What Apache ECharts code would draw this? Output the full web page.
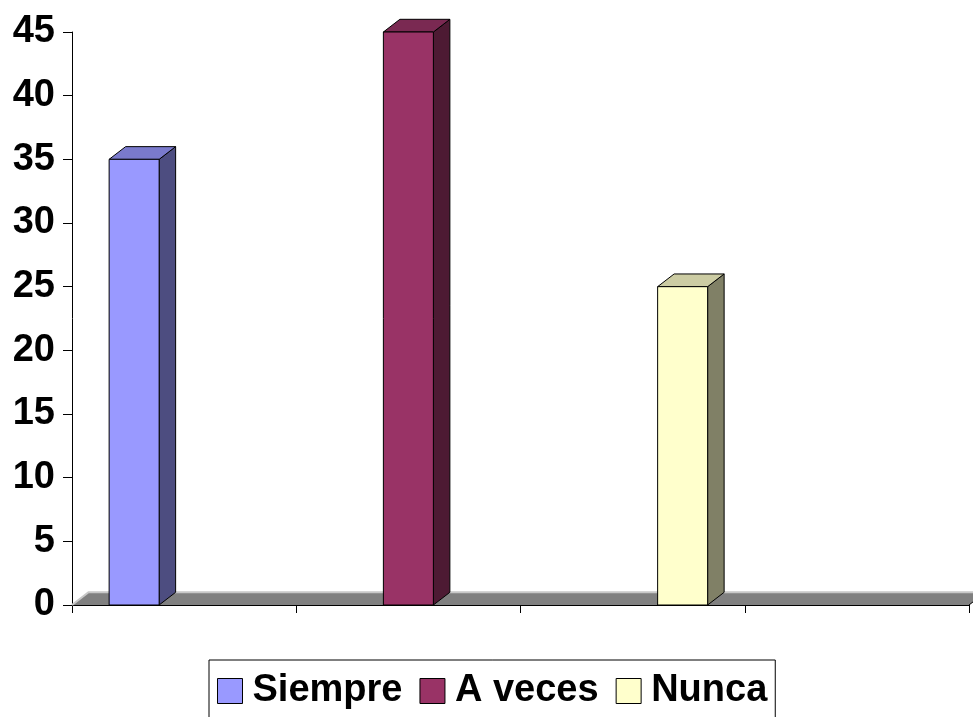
<!DOCTYPE html>
<html>
<head>
<meta charset="utf-8">
<script src="https://cdn.jsdelivr.net/npm/echarts@6/dist/echarts.min.js"></script>
<style>
html,body{margin:0;padding:0;background:#fff;}
#chart{width:973px;height:717px;}
</style>
</head>
<body>
<div id="chart"></div>
<script>
// ---- data ----
const categories = ['', '', '', ''];
const seriesNames = ['Siempre', 'A veces', 'Nunca'];
const siempre = [35, null, null, null];
const aVeces = [null, 45, null, null];
const nunca = [null, null, 25, null];
const yTicks = [0, 5, 10, 15, 20, 25, 30, 35, 40, 45];

// ---- styles ----
const faceColors = [
  { front: '#9999FF', side: '#4D4D80', top: '#7A7ACC' },
  { front: '#993366', side: '#4D1A33', top: '#7A2952' },
  { front: '#FFFFCC', side: '#808066', top: '#CCCCA3' }
];
const BAR_RATIO = 50 / 224.25;
const DX = 16.5, DY = 12.7;
const FONT = 'Liberation Sans, Arial, sans-serif';

const valueSets = [siempre, aVeces, nunca];

function makeBarSeries(si) {
  const data = [];
  valueSets[si].forEach((v, i) => { if (v !== null) data.push([i, v]); });
  return {
    name: seriesNames[si],
    type: 'custom',
    itemStyle: { color: faceColors[si].front },
    z: 3,
    renderItem: function (params, api) {
      const ci = api.value(0), v = api.value(1);
      const base = api.coord([ci, 0]);
      const topPt = api.coord([ci, v]);
      const W = api.size([1, 0])[0];
      const bw = W * BAR_RATIO;
      const x0 = base[0] - 1.5 * bw + si * bw;
      const x1 = x0 + bw;
      const yb = base[1], yt = topPt[1];
      const stroke = { stroke: '#000', lineWidth: 1 };
      return {
        type: 'group',
        children: [
          { type: 'polygon', shape: { points: [[x1, yb], [x1 + DX, yb - DY], [x1 + DX, yt - DY], [x1, yt]] },
            style: Object.assign({ fill: faceColors[si].side }, stroke) },
          { type: 'polygon', shape: { points: [[x0, yt], [x0 + DX, yt - DY], [x1 + DX, yt - DY], [x1, yt]] },
            style: Object.assign({ fill: faceColors[si].top }, stroke) },
          { type: 'rect', shape: { x: x0, y: yt, width: bw, height: yb - yt },
            style: Object.assign({ fill: faceColors[si].front }, stroke) }
        ]
      };
    },
    data: data
  };
}

const floorSeries = {
  type: 'custom',
  silent: true,
  z: 1,
  legendHoverLink: false,
  renderItem: function (params, api) {
    const cs = params.coordSys;
    const y0 = api.coord([0, 0])[1];
    const xl = cs.x, xr = cs.x + cs.width;
    return {
      type: 'group',
      children: [
        { type: 'polygon', shape: { points: [[xl, y0], [xl + DX, y0 - DY], [xr + DX, y0 - DY], [xr, y0]] },
          style: { fill: '#808080', stroke: null } },
        { type: 'polyline', shape: { points: [[xl, y0], [xl + DX, y0 - DY], [xr + DX, y0 - DY]] },
          style: { fill: null, stroke: '#C8C8C8', lineWidth: 2 } },
        { type: 'line', shape: { x1: xr, y1: y0, x2: xr + DX, y2: y0 - DY },
          style: { stroke: '#000', lineWidth: 1 } }
      ]
    };
  },
  data: [[0, 0]]
};

const chart = echarts.init(document.getElementById('chart'), null, { renderer: 'canvas' });
chart.setOption({
  animation: false,
  backgroundColor: '#ffffff',
  grid: { left: 72, right: 4, top: 32, bottom: 112, containLabel: false },
  legend: {
    data: seriesNames,
    left: 209,
    top: 660,
    padding: [12, 8, 40, 8],
    borderColor: '#000',
    borderWidth: 1,
    itemGap: 17,
    itemWidth: 25,
    itemHeight: 25,
    icon: 'rect',
    itemStyle: { borderColor: '#000', borderWidth: 1 },
    textStyle: { fontSize: 38, fontWeight: 'bold', color: '#000', fontFamily: FONT, padding: [0, 0, 0, 5] },
    selectedMode: false
  },
  xAxis: {
    type: 'category',
    data: categories,
    boundaryGap: true,
    axisLine: { show: true, lineStyle: { color: '#000', width: 1 } },
    axisTick: { show: true, inside: false, length: 8, lineStyle: { color: '#000' } },
    axisLabel: { show: false },
    splitLine: { show: false }
  },
  yAxis: {
    type: 'value',
    min: yTicks[0],
    max: yTicks[yTicks.length - 1],
    interval: yTicks[1] - yTicks[0],
    axisLine: { show: true, lineStyle: { color: '#000', width: 1 } },
    axisTick: { show: true, inside: false, length: 9, lineStyle: { color: '#000' } },
    axisLabel: { show: true, margin: 17, fontSize: 38, fontWeight: 'bold', color: '#000', fontFamily: FONT },
    splitLine: { show: false }
  },
  series: [floorSeries, makeBarSeries(0), makeBarSeries(1), makeBarSeries(2)]
});
</script>
</body>
</html>
